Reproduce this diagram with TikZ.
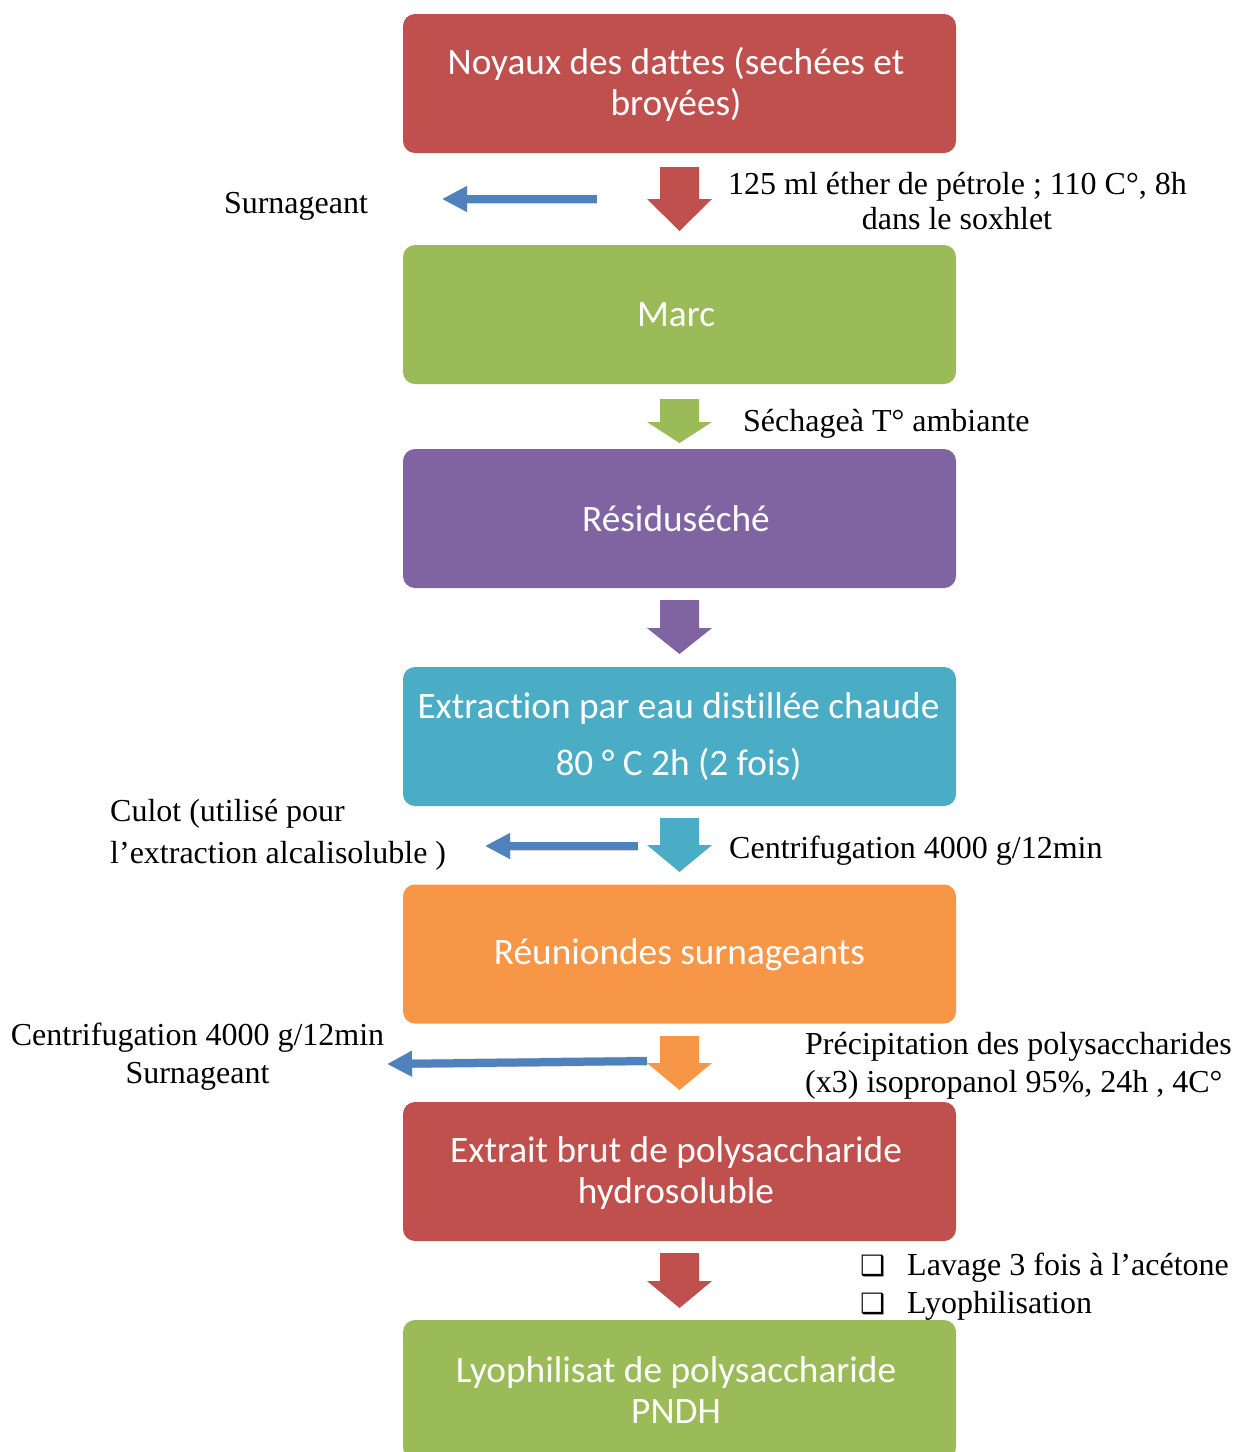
\documentclass[tikz,border=0pt]{standalone}
\usepackage{fontspec}
\setmainfont{Liberation Serif}
\newfontfamily\boxfont[Ligatures=NoCommon]{Carlito}
\newfontfamily\symfont{DejaVu Sans}
\usetikzlibrary{arrows.meta}
\definecolor{cred}{HTML}{C0504D}
\definecolor{cgreen}{HTML}{9BBB59}
\definecolor{cpurple}{HTML}{8064A2}
\definecolor{ccyan}{HTML}{4BACC6}
\definecolor{corange}{HTML}{F79646}
\definecolor{cblue}{HTML}{4F81BD}
\tikzset{
  procbox/.style={fill=#1, rounded corners=12pt, minimum width=553pt, minimum height=139pt, inner sep=0pt},
  boxtext/.style={text=white, font=\boxfont\fontsize{37.3}{41}\selectfont, align=center, inner sep=0pt},
  lbl/.style={font=\fontsize{32}{38}\selectfont, inner sep=0pt},
  sidearrow/.style={draw=cblue, line width=8pt, -{Triangle[length=25pt,width=24pt]}},
  sideshadow/.style={draw=black, opacity=0.16, line width=9pt, -{Triangle[length=25pt,width=25pt]}, xshift=2pt, yshift=-3pt},
}
\newcommand\blockarr[4]{\fill[#1] (660,#2) -- (699,#2) -- (699,#3) -- (712,#3) -- (679.5,#4) -- (647,#3) -- (660,#3) -- cycle;}
\begin{document}
\begin{tikzpicture}[x=1pt,y=-1pt]
\useasboundingbox (0,0) rectangle (1235,1452);
\clip (0,0) rectangle (1235,1452);
\fill[white] (0,0) rectangle (1235,1452);

% boxes
\node[procbox=cred] (b1) at (679.5,83.5) {};
\node[procbox=cgreen] (b2) at (679.5,314.5) {};
\node[procbox=cpurple] (b3) at (679.5,518.5) {};
\node[procbox=ccyan] (b4) at (679.5,736.5) {};
\node[procbox=corange] (b5) at (679.5,954) {};
\node[procbox=cred] (b6) at (679.5,1171.5) {};
\node[procbox=cgreen] (b7) at (679.5,1389.5) {};

% box texts
\node[boxtext] (t1) at ([xshift=-3.5pt,yshift=-1pt]b1.center) {Noyaux des dattes (sechées et\\broyées)};
\node[boxtext] (t2) at ([xshift=-3.5pt]b2.center) {Marc};
\node[boxtext] (t3) at ([xshift=-3.5pt]b3.center) {Résiduséché};
\node[boxtext, font=\boxfont\fontsize{37.3}{57}\selectfont] (t4) at ([xshift=-1pt]b4.center) {Extraction par eau distillée chaude\\80 ° C 2h (2 fois)};
\node[boxtext] (t5) at ([xshift=0pt,yshift=-1pt]b5.center) {Réuniondes surnageants};
\node[boxtext] (t6) at ([xshift=-3.5pt,yshift=-1.5pt]b6.center) {Extrait brut de polysaccharide\\hydrosoluble};
\node[boxtext] (t7) at ([xshift=-3.5pt,yshift=-1pt]b7.center) {Lyophilisat de polysaccharide\\PNDH};

% block arrows between boxes
\blockarr{cred}{167}{199}{231}
\blockarr{cgreen}{399}{422}{443}
\blockarr{cpurple}{600}{628}{654}
\blockarr{ccyan}{818}{845}{872}
\blockarr{corange}{1036}{1063}{1090}
\blockarr{cred}{1253}{1281}{1308}

% labels
\node[lbl, anchor=base] (surn1) at (296,213) {Surnageant};
\node[lbl, anchor=base] (c1a) at (957.5,194) {125 ml éther de pétrole ; 110 C°, 8h};
\node[lbl, anchor=base] (c1b) at (957,229) {dans le soxhlet};
\node[lbl, anchor=base west] (c2) at (743,431) {Séchageà T° ambiante};
\node[lbl, anchor=base west] (culA) at (110,821) {Culot (utilisé pour};
\node[lbl, anchor=base west] (culB) at (110,863) {l’extraction alcalisoluble )};
\node[lbl, anchor=base west] (c4) at (729,858) {Centrifugation 4000 g/12min};
\node[lbl, anchor=base] (c5L) at (197.5,1045) {Centrifugation 4000 g/12min};
\node[lbl, anchor=base] (surn2) at (197.5,1083) {Surnageant};
\node[lbl, anchor=base west] (c5a) at (805,1054) {Précipitation des polysaccharides};
\node[lbl, anchor=base west] (c5b) at (805,1092) {(x3) isopropanol 95\%, 24h , 4C°};
\node[lbl, anchor=base west, font=\symfont\fontsize{28}{30}\selectfont] (cb1) at (860,1275) {❑};
\node[lbl, anchor=base west] (c6a) at (907,1275) {Lavage 3 fois à l’acétone};
\node[lbl, anchor=base west, font=\symfont\fontsize{28}{30}\selectfont] (cb2) at (860,1313) {❑};
\node[lbl, anchor=base west] (c6b) at (907,1313) {Lyophilisation};

% side arrows
\coordinate (s1) at (597,199);  \coordinate (e1) at (442,199);
\coordinate (s2) at (638,846);  \coordinate (e2) at (485,846);
\coordinate (s3) at (647,1061); \coordinate (e3) at (387,1064);
\draw[sideshadow] (s1) -- (e1);
\draw[sideshadow] (s2) -- (e2);
\draw[sideshadow] (s3) -- (e3);
\draw[sidearrow] (s1) -- (e1);
\draw[sidearrow] (s2) -- (e2);
\draw[sidearrow] (s3) -- (e3);
\end{tikzpicture}
\end{document}
